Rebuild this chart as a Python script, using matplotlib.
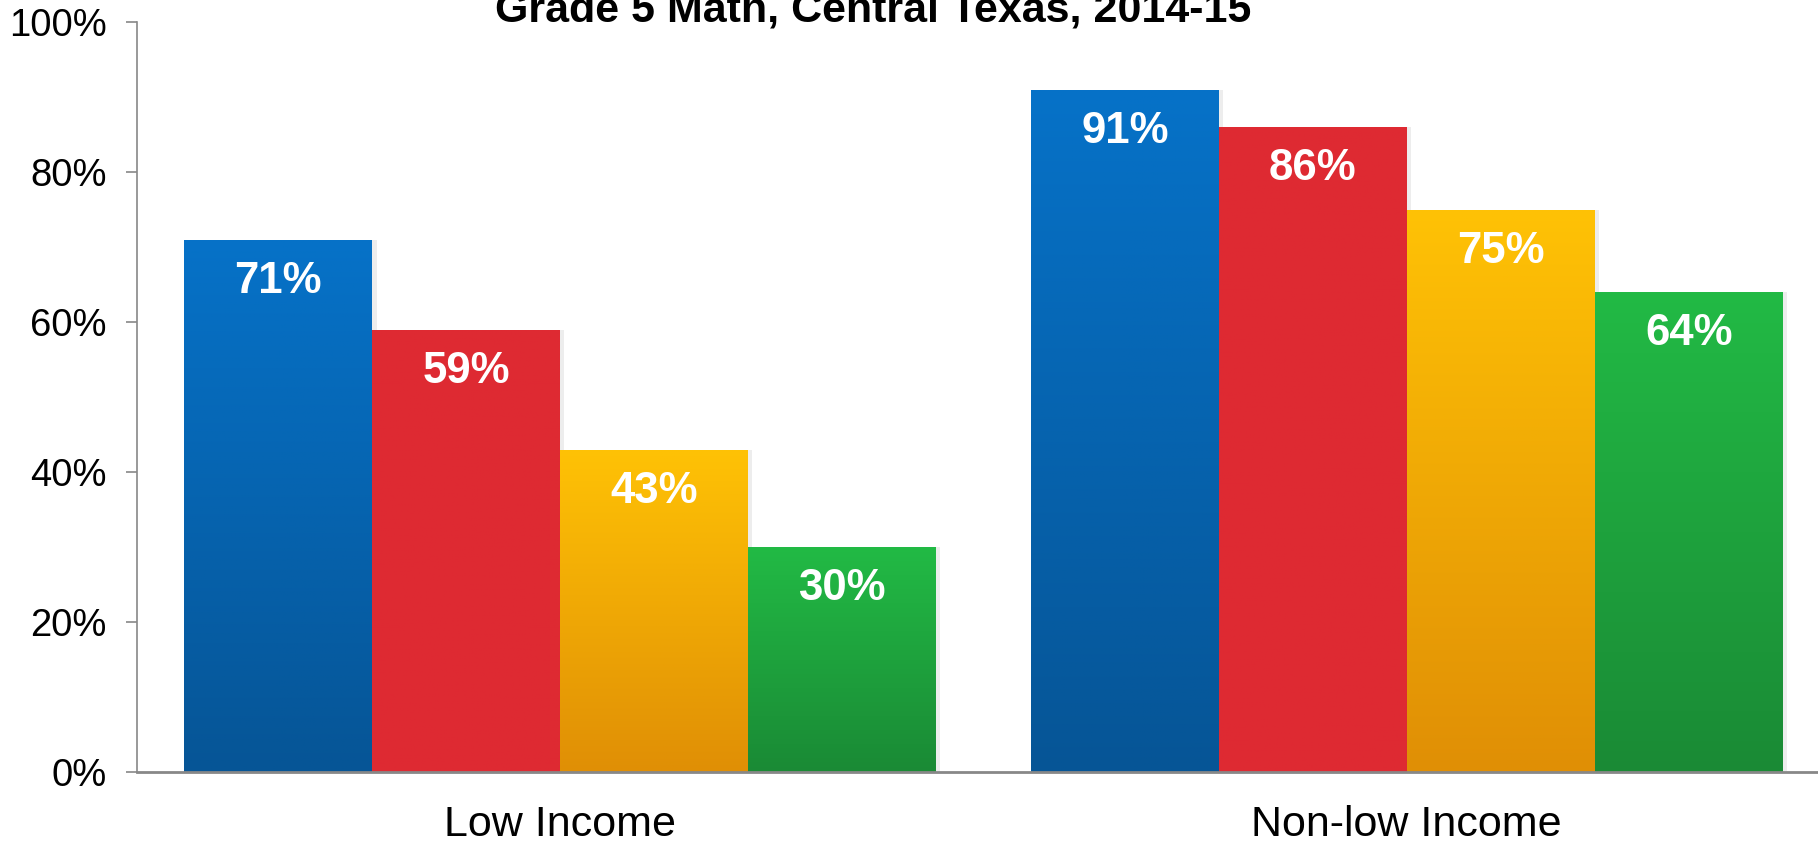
import matplotlib

matplotlib.use("Agg")

import matplotlib.pyplot as plt
import numpy as np
from matplotlib.colors import LinearSegmentedColormap

plt.rcParams["font.family"] = ["Liberation Sans", "DejaVu Sans"]

groups = ["Low Income", "Non-low Income"]
series_values = [
    [71, 91],  # blue
    [59, 86],  # red
    [43, 75],  # yellow
    [30, 64],  # green
]
value_labels = [["71%", "91%"], ["59%", "86%"], ["43%", "75%"], ["30%", "64%"]]
# (top colour, bottom colour) of each series' vertical gradient
gradients = [
    ("#0672C8", "#065596"),
    ("#DF2A32", "#DE2A33"),
    ("#FFC205", "#E08F05"),
    ("#22BA45", "#1A8A35"),
]
yticks = [0, 20, 40, 60, 80, 100]
ytick_labels = ["0%", "20%", "40%", "60%", "80%", "100%"]

fig = plt.figure(figsize=(18.18, 8.42), dpi=100)
fig.set_facecolor("white")
# axes runs slightly past the right edge, the original is cropped there
ax = fig.add_axes([137 / 1818, 70 / 842, 1693 / 1818, 750 / 842])

x = np.arange(len(groups))
width = 0.222
offsets = (np.arange(4) - 1.5) * width

for vals, labels, (top, bottom), off in zip(series_values, value_labels, gradients, offsets):
    cmap = LinearSegmentedColormap.from_list("g", [bottom, top])
    bars = ax.bar(x + off, vals, width, color="none", linewidth=0, zorder=2)
    for bar, lab in zip(bars, labels):
        x0, y0 = bar.get_x(), bar.get_y()
        w, h = bar.get_width(), bar.get_height()
        # soft shadow on the right
        ax.bar(x0 + w / 2 + 0.005, h, w, bottom=y0, color="#000000", alpha=0.07,
               linewidth=0, zorder=1)
        grad = np.linspace(0, 1, 256).reshape(-1, 1)
        im = ax.imshow(grad, extent=[x0, x0 + w, y0, y0 + h], origin="lower",
                       cmap=cmap, aspect="auto", zorder=2)
        im.set_clip_path(bar)
        ax.annotate(lab, (x0 + w / 2, h), xytext=(0, -30), textcoords="offset points",
                    ha="center", va="center", color="white", fontsize=31.5,
                    fontweight="bold", zorder=3)

ax.set_xlim(-0.5, 1.5)
ax.set_ylim(0, 100)
ax.set_yticks(yticks)
ax.set_yticklabels(ytick_labels, fontsize=27.5)
ax.set_xticks(x)
ax.set_xticklabels(groups, fontsize=31)
ax.tick_params(axis="x", length=0, pad=24)
ax.tick_params(axis="y", length=8, width=1.2, color="#888888", pad=14)

for side in ["top", "right"]:
    ax.spines[side].set_visible(False)
ax.spines["left"].set_color("#888888")
ax.spines["left"].set_linewidth(1.2)
ax.spines["bottom"].set_color("#888888")
ax.spines["bottom"].set_linewidth(2)
ax.spines["bottom"].set_zorder(4)

fig.text(873 / 1818, (842 - 21) / 842, "Grade 5 Math, Central Texas, 2014-15",
         ha="center", va="baseline", fontsize=31, fontweight="bold")

fig.savefig("out.png", dpi=100, facecolor=fig.get_facecolor())
